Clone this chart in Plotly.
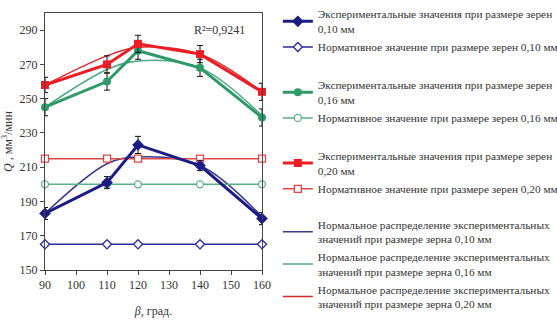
import plotly.graph_objects as go

# Cutting angle, degrees
beta = [90, 110, 120, 140, 160]

# Experimental material removal rate, mm^3/min, and error half-widths
exp_010 = [183, 201, 223, 211, 180]
err_010 = [3.5, 3.5, 5, 3, 3.5]
exp_016 = [245, 260, 278, 268, 239]
err_016 = [5, 5, 5, 5, 5]
exp_020 = [258, 270, 282, 276, 254]
err_020 = [4.5, 5, 5, 5, 5]

# Normative values
norm_010 = [165, 165, 165, 165, 165]
norm_016 = [200, 200, 200, 200, 200]
norm_020 = [215, 215, 215, 215, 215]

# Normal-distribution fit of the experimental values
fit_010 = [183, 212, 216, 211, 181]
fit_016 = [245, 267, 272, 268, 240]
fit_020 = [258, 275, 280, 276, 254]

r2_text = "R²=0,9241"

FONT = "'Liberation Serif', 'Times New Roman', Tinos, serif"
NAVY = "#1c1c82"
GREEN = "#2f9a68"
RED = "#ee1c24"

fig = go.Figure()

def exp_trace(y, err, color, symbol, size, name, group, rank):
    return go.Scatter(
        x=beta, y=y, mode="lines+markers", name=name, legendgroup=group,
        legendrank=rank,
        line=dict(color=color, width=3),
        marker=dict(symbol=symbol, size=size, color=color),
        error_y=dict(type="data", array=err, color="#111111", thickness=1, width=3),
        cliponaxis=False, legend="legend",
    )

def norm_trace(y, color, symbol, name, group, rank):
    return go.Scatter(
        x=beta, y=y, mode="lines+markers", name=name, legendgroup=group,
        legendrank=rank,
        line=dict(color=color, width=1.5),
        marker=dict(symbol=symbol, size=7, color="white",
                    line=dict(color=color, width=1.3)),
        cliponaxis=False, legend="legend",
    )

def fit_trace(y, color, name):
    return go.Scatter(
        x=beta, y=y, mode="lines", name=name,
        line=dict(color=color, width=1.5, shape="spline"),
        cliponaxis=False, legend="legend2",
    )

# draw fits first so the experimental curves sit on top
fig.add_trace(fit_trace(fit_010, "#3a3a8c",
    "Нормальное распределение экспериментальных<br>значений при размере зерна 0,10 мм"))
fig.add_trace(fit_trace(fit_016, "#4fa882",
    "Нормальное распределение экспериментальных<br>значений при размере зерна 0,16 мм"))
fig.add_trace(fit_trace(fit_020, "#d62a2a",
    "Нормальное распределение экспериментальных<br>значений при размере зерна 0,20 мм"))

fig.add_trace(norm_trace(norm_010, "#2b2b99", "diamond",
    "Нормативное значение при размере зерен 0,10 мм", "g1", 2))
fig.add_trace(norm_trace(norm_016, "#5aaf88", "circle",
    "Нормативное значение при размере зерен 0,16 мм", "g2", 12))
fig.add_trace(norm_trace(norm_020, "#e04848", "square",
    "Нормативное значение при размере зерен 0,20 мм", "g3", 22))

fig.add_trace(exp_trace(exp_010, err_010, NAVY, "diamond", 9,
    "Экспериментальные значения при размере зерен<br>0,10 мм", "g1", 1))
fig.add_trace(exp_trace(exp_016, err_016, GREEN, "circle", 8,
    "Экспериментальные значения при размере зерен<br>0,16 мм", "g2", 11))
fig.add_trace(exp_trace(exp_020, err_020, RED, "square", 8,
    "Экспериментальные значения при размере зерен<br>0,20 мм", "g3", 21))

axis_common = dict(
    showgrid=False, zeroline=False, showline=True, mirror=True,
    linecolor="#444444", linewidth=1, ticks="outside", ticklen=4,
    tickcolor="#444444", tickfont=dict(family=FONT, size=12, color="#333333"),
    automargin=False,
)

legend_font = dict(family=FONT, size=11.3, color="#333333")

fig.update_layout(
    width=557, height=323,
    margin=dict(l=45, r=295, t=13, b=53, autoexpand=False),
    paper_bgcolor="white", plot_bgcolor="white",
    font=dict(family=FONT, size=12, color="#333333"),
    xaxis=dict(range=[90, 160], tickvals=[90, 100, 110, 120, 130, 140, 150, 160],
               title=dict(text="<i>β</i>, град.", font=dict(family=FONT, size=12)),
               **axis_common),
    yaxis=dict(range=[150, 300], tickvals=[150, 170, 190, 210, 230, 250, 270, 290],
               title=dict(text="<i>Q</i> , мм<sup>3</sup>/мин",
                          font=dict(family=FONT, size=12)),
               **axis_common),
    legend=dict(x=1.073, y=1.05, xanchor="left", yanchor="top",
                font=legend_font, itemwidth=30, tracegroupgap=19.5, maxheight=320,
                traceorder="grouped", bgcolor="rgba(0,0,0,0)"),
    legend2=dict(x=1.073, y=0.2315, xanchor="left", yanchor="top",
                 font=legend_font, itemwidth=30, tracegroupgap=0, maxheight=320,
                 bgcolor="rgba(0,0,0,0)"),
    annotations=[dict(x=0.93, y=290, xref="paper", yref="y", text=r2_text,
                      showarrow=False, xanchor="right",
                      font=dict(family=FONT, size=12, color="#333333"))],
)

fig.write_html("out.html")
